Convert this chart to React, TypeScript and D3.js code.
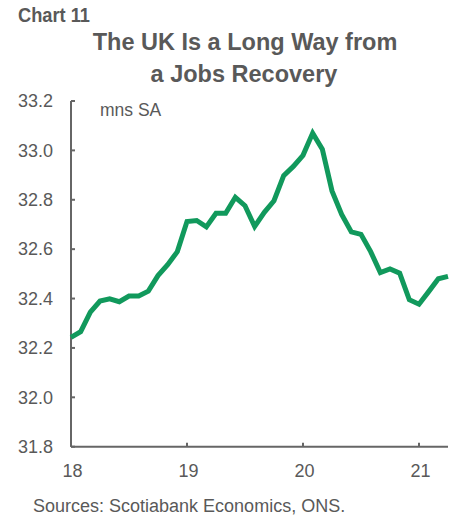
import React from "react";
import * as d3 from "d3";

const startYear = 2018;
const employment = [
  32.243, 32.266, 32.345, 32.39, 32.399, 32.387, 32.41, 32.41, 32.43, 32.493, 32.537, 32.59,
  32.712, 32.716, 32.69, 32.745, 32.745, 32.81, 32.776, 32.692, 32.749, 32.796, 32.898, 32.935,
  32.98, 33.07, 33.005, 32.836, 32.741, 32.67, 32.66, 32.59, 32.505, 32.52, 32.503, 32.395,
  32.377, 32.428, 32.48, 32.49,
];
const yTicks = [31.8, 32.0, 32.2, 32.4, 32.6, 32.8, 33.0, 33.2];
const xTickYears = [2018, 2019, 2020, 2021];
const xTickLabels = ["18", "19", "20", "21"];

const FONT = "'Liberation Sans', Arial, sans-serif";
const GRAY = "#595959";
const AXIS = "#666666";
const GREEN = "#11995c";

export default function App() {
  const left = 71, right = 448, top = 101, bottom = 446.7;
  const x = d3.scaleLinear().domain([0, employment.length - 1]).range([left, right]);
  const y = d3.scaleLinear().domain([31.8, 33.2]).range([bottom, top]);
  const line = d3
    .line<number>()
    .x((_, i) => x(i))
    .y((d) => y(d));
  const monthIdx = (yr: number) => (yr - startYear) * 12;

  return (
    <svg
      width={458}
      height={518}
      style={{ position: "absolute", left: 0, top: 0, background: "#fff" }}
      fontFamily={FONT}
    >
      <text x={18} y={21.7} fontSize={20} fontWeight="bold" fill={GRAY} textLength={72} lengthAdjust="spacingAndGlyphs">
        Chart 11
      </text>
      <text x={245} y={50} fontSize={23.5} fontWeight="bold" fill={GRAY} textAnchor="middle">
        The UK Is a Long Way from
      </text>
      <text x={244} y={82} fontSize={23.5} fontWeight="bold" fill={GRAY} textAnchor="middle">
        a Jobs Recovery
      </text>

      {/* y axis */}
      <line x1={left} x2={left} y1={top} y2={bottom} stroke={AXIS} strokeWidth={2} />
      {yTicks.map((t) => (
        <g key={t}>
          <line x1={left} x2={left + 4} y1={y(t)} y2={y(t)} stroke={AXIS} strokeWidth={2} />
          <text x={53} y={y(t)} dy="0.35em" fontSize={18} fill={GRAY} textAnchor="end">
            {t.toFixed(1)}
          </text>
        </g>
      ))}

      {/* x axis */}
      <line x1={left} x2={right} y1={bottom} y2={bottom} stroke={AXIS} strokeWidth={2} />
      {xTickYears.map((yr, i) => (
        <g key={yr}>
          <line x1={x(monthIdx(yr))} x2={x(monthIdx(yr))} y1={bottom} y2={bottom - 4} stroke={AXIS} strokeWidth={2} />
          <text x={x(monthIdx(yr)) + 1.5} y={476.7} fontSize={18} fill={GRAY} textAnchor="middle">
            {xTickLabels[i]}
          </text>
        </g>
      ))}

      <text x={100} y={116} fontSize={17.5} fill={GRAY}>
        mns SA
      </text>

      <path d={line(employment) ?? ""} fill="none" stroke={GREEN} strokeWidth={5} strokeLinejoin="miter" strokeMiterlimit={3} />

      <text x={33} y={512} fontSize={18} fill={GRAY}>
        Sources: Scotiabank Economics,  ONS.
      </text>
    </svg>
  );
}
